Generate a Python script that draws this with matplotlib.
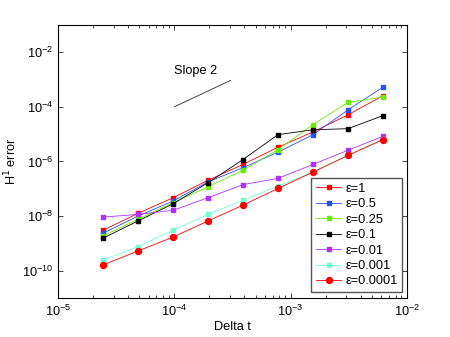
import numpy as np
import matplotlib
matplotlib.use("Agg")
import matplotlib.pyplot as plt
import matplotlib.ticker as mt

plt.rcParams['font.family'] = ['Liberation Sans', 'DejaVu Sans']

# time steps
dt = [2.44e-5, 4.88e-5, 9.77e-5, 1.95e-4, 3.9e-4, 7.8e-4, 1.56e-3, 3.125e-3, 6.25e-3]

# log10 of the H1 error
err_1 = [-8.52, -7.90, -7.33, -6.69, -6.11, -5.48, -4.92, -4.29, -3.59]
err_05 = [-8.63, -8.00, -7.45, -6.75, -6.23, -5.66, -5.02, -4.11, -3.28]
err_025 = [-8.73, -8.12, -7.51, -6.93, -6.32, -5.57, -4.65, -3.84, -3.64]
err_01 = [-8.81, -8.18, -7.55, -6.78, -5.93, -5.02, -4.84, -4.80, -4.32]
err_001 = [-8.04, -7.94, -7.79, -7.33, -6.85, -6.62, -6.11, -5.59, -5.08]
err_0001 = [-9.61, -9.12, -8.52, -7.94, -7.42, -6.90, -6.39, -5.76, -5.18]
err_00001 = [-9.79, -9.28, -8.77, -8.18, -7.60, -6.99, -6.39, -5.78, -5.20]

labels = ['ε=1', 'ε=0.5', 'ε=0.25', 'ε=0.1', 'ε=0.01', 'ε=0.001', 'ε=0.0001']
colors = ['#ff0000', '#2850ff', '#66ee00', '#000000', '#b030ff', '#70ffd0', '#ff0000']
markers = ['s', 's', 's', 's', 's', 's', 'o']
series = [err_1, err_05, err_025, err_01, err_001, err_0001, err_00001]

slope_x = [1e-4, 3.05e-4]
slope_y = [1e-4, 9.3e-4]

fig = plt.figure(figsize=(4.5, 3.37), dpi=100)
ax = fig.add_axes([0.129, 0.116, 0.775, 0.81])

for vals, lab, c, m in zip(series, labels, colors, markers):
    ms = 4.3 if m == 'o' else 3.5
    ax.loglog(dt, 10 ** np.array(vals), '-', color=c, marker=m, markersize=ms,
              linewidth=0.6, label=lab)

ax.plot(slope_x, slope_y, color='#444444', linewidth=0.7)
ax.text(1e-4, 2e-3, 'Slope 2', fontsize=9.2, va='center', ha='left')

ax.set_xlim(1e-5, 1e-2)
ax.set_ylim(1e-11, 1e-1)
ax.set_xticks([1e-5, 1e-4, 1e-3, 1e-2])
ax.set_yticks([1e-10, 1e-8, 1e-6, 1e-4, 1e-2])
ax.tick_params(which='both', direction='in', top=True, right=True, labelsize=9.2)
ax.tick_params(which='major', length=3.5, width=0.5)
ax.tick_params(which='minor', length=2, width=0.5)
ax.minorticks_on()
ax.yaxis.set_minor_locator(mt.NullLocator())
ax.tick_params(axis='x', pad=4)
for s in ax.spines.values():
    s.set_linewidth(0.8)

ax.set_xlabel('Delta t', fontsize=9.2, labelpad=2)
ax.set_ylabel('H$^1$ error', fontsize=9.2, labelpad=2)

leg = ax.legend(loc='lower right', bbox_to_anchor=(0.986, 0.022), borderaxespad=0,
                fontsize=9.2, fancybox=False, framealpha=1, handlelength=2.0,
                labelspacing=0.27, handletextpad=0.3, borderpad=0.35)
leg.get_frame().set_edgecolor('#555555')
leg.get_frame().set_linewidth(1.0)

fig.savefig('out.png', dpi=100)
